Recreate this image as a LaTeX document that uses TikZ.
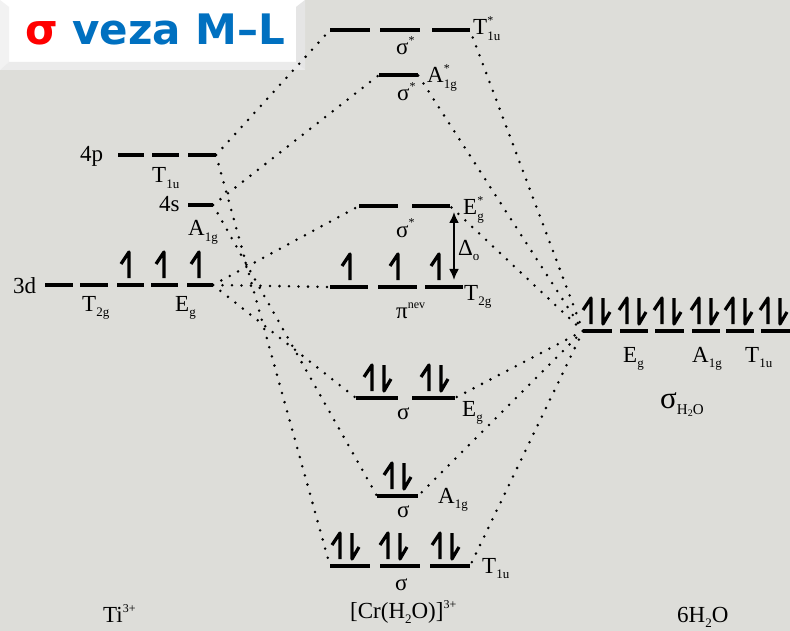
\documentclass[tikz,border=0pt]{standalone}
\usepackage{fontspec}
\setmainfont{Liberation Serif}
\newfontfamily\headfont{DejaVu Sans}
\usetikzlibrary{arrows.meta}

\definecolor{bgcol}{RGB}{221,221,217}
\definecolor{headblue}{RGB}{0,112,192}
\definecolor{headred}{RGB}{255,0,0}

\newcommand{\lsub}[1]{\raisebox{-5.5pt}{\fontsize{13}{13}\selectfont #1}}
\newcommand{\lsup}[1]{\raisebox{10pt}{\fontsize{12}{12}\selectfont #1}}
\newcommand{\orb}[3]{#1\makebox[0pt][l]{\lsup{#3}}\lsub{#2}}
\newcommand{\spinup}[2]{\draw[spin] (#1-8,#2-21) -- (#1,#2-33) -- (#1,#2-7);}
\newcommand{\spindown}[2]{\draw[spin] (#1,#2-33) -- (#1,#2-7) -- (#1+7,#2-19);}
\newcommand{\spinpair}[2]{\spinup{#1-6}{#2}\spindown{#1+6}{#2}}

\tikzset{
	orbline/.style={line width=3.8pt},
	corr/.style={line width=2.8pt,line cap=round,dash pattern=on 0pt off 9.5pt},
	spin/.style={line width=3.2pt,line join=round},
	lab/.style={inner sep=0pt,anchor=base west,font=\fontsize{23}{25}\selectfont},
}

\begin{document}
\begin{tikzpicture}[x=1pt,y=-1pt]
					\useasboundingbox (0,0) rectangle (790,631);
					\fill[bgcol] (0,0) rectangle (790,631);
					%Title
					\fill[white] (0,0) rectangle (305,70);
					\fill[gray!10] (0,0) -- (9,7) -- (9,62) -- (0,70) -- cycle;
					\fill[gray!16] (0,70) -- (9,62) -- (296,62) -- (305,70) -- cycle;
					\fill[gray!20] (305,0) -- (296,7) -- (296,62) -- (305,70) -- cycle;
					\node[inner sep=0pt,anchor=base west,font=\headfont\bfseries\fontsize{42}{44}\selectfont] (head) at (25,45) {\textcolor{headred}{σ} \textcolor{headblue}{veza M–L}};
					%Ti 3+
					\draw[orbline] (118,155)--(144,155);
					\draw[orbline] (152,155)--(179,155);
					\draw[orbline] (188,155)--(216,155);
					\draw[orbline] (188,205)--(213,205);
					\draw[orbline] (45,285)--(73,285);
					\draw[orbline] (80,285)--(108,285);
					\draw[orbline] (117,285)--(144,285);
					\draw[orbline] (151,285)--(178,285);
					\draw[orbline] (187,285)--(213,285);
					\spinup{129}{285} \spinup{164}{285} \spinup{199}{285}
					\coordinate (p4) at (216,155);
					\coordinate (s4) at (213,205);
					\coordinate (d3) at (213,285);
					\node[lab] (l4p) at (80,162) {4p};
					\node[lab] (lt1u) at (152,183) {\orb{T}{1u}{}};
					\node[lab] (l4s) at (159,212) {4s};
					\node[lab] (la1g) at (188,236) {\orb{A}{1g}{}};
					\node[lab] (l3d) at (13,294) {3d};
					\node[lab] (lt2g) at (82,311) {\orb{T}{2g}{}};
					\node[lab] (leg) at (175,311) {\orb{E}{g}{}};
					\node[lab] (lti) at (103,622) {Ti\lsup{3+}};
					%Complex
					\draw[orbline] (330,30)--(370,30);
					\draw[orbline] (380,30)--(420,30);
					\draw[orbline] (432,30)--(470,30);
					\draw[orbline] (379,75)--(418,75);
					\draw[orbline] (359,206)--(398,206);
					\draw[orbline] (412,206)--(450,206);
					\draw[orbline] (330,287)--(368,287);
					\draw[orbline] (378,287)--(417,287);
					\draw[orbline] (425,287)--(463,287);
					\draw[orbline] (356,398)--(398,398);
					\draw[orbline] (412,398)--(455,398);
					\draw[orbline] (377,496)--(418,496);
					\draw[orbline] (330,566)--(370,566);
					\draw[orbline] (380,566)--(420,566);
					\draw[orbline] (430,566)--(470,566);
					\spinup{350}{287} \spinup{398}{287} \spinup{439}{287}
					\spinpair{378}{398} \spinpair{435}{398}
					\spinpair{398}{496}
					\spinpair{346}{566} \spinpair{394}{566} \spinpair{446}{566}
					\coordinate (tuaL) at (330,30);
					\coordinate (tuaR) at (470,30);
					\coordinate (agaL) at (379,75);
					\coordinate (agaR) at (418,75);
					\coordinate (egaL) at (359,206);
					\coordinate (egaR) at (450,206);
					\coordinate (t2gL) at (330,287);
					\coordinate (egL) at (356,398);
					\coordinate (egR) at (455,398);
					\coordinate (agL) at (377,496);
					\coordinate (agR) at (418,496);
					\coordinate (tuL) at (330,566);
					\coordinate (tuR) at (470,566);
					\coordinate (dtop) at (454,212);
					\coordinate (dbot) at (454,280);
					\draw[line width=2pt,{Latex[length=11pt,width=10pt]}-{Latex[length=11pt,width=10pt]}] (dtop)--(dbot);
					\node[lab] (stua) at (396,55) {σ\lsup{*}};
					\node[lab] (ltua) at (473,35) {\orb{T}{1u}{*}};
					\node[lab] (laga) at (427,83) {\orb{A}{1g}{*}};
					\node[lab] (saga) at (397,101) {σ\lsup{*}};
					\node[lab] (lega) at (463,215) {\orb{E}{g}{*}};
					\node[lab] (sega) at (396,237) {σ\lsup{*}};
					\node[lab] (ldel) at (458,255) {Δ\lsub{o}};
					\node[lab] (lt2gm) at (464,300) {\orb{T}{2g}{}};
					\node[lab] (lpin) at (396,318) {π\lsup{nev}};
					\node[lab] (legm) at (462,416) {\orb{E}{g}{}};
					\node[lab] (segm) at (397,419) {σ};
					\node[lab] (lagm) at (438,503) {\orb{A}{1g}{}};
					\node[lab] (sagm) at (397,517) {σ};
					\node[lab] (ltum) at (482,573) {\orb{T}{1u}{}};
					\node[lab] (stum) at (395,590) {σ};
					\node[lab] (lcr) at (350,618) {[Cr(H\lsub{2}O)]\lsup{3+}};
					%6 H2O
					\draw[orbline] (583,331)--(612,331);
					\draw[orbline] (620,331)--(648,331);
					\draw[orbline] (655,331)--(684,331);
					\draw[orbline] (692,331)--(720,331);
					\draw[orbline] (726,331)--(754,331);
					\draw[orbline] (761,331)--(790,331);
					\spinpair{597}{331} \spinpair{633}{331} \spinpair{668}{331}
					\spinpair{705}{331} \spinpair{739}{331} \spinpair{774}{331}
					\coordinate (lig) at (583,331);
					\node[lab] (lel) at (623,362) {\orb{E}{g}{}};
					\node[lab] (lal) at (692,362) {\orb{A}{1g}{}};
					\node[lab] (ltl) at (745,362) {\orb{T}{1u}{}};
					\node[lab,font=\fontsize{31}{33}\selectfont] (sig) at (660,408) {σ\raisebox{-6pt}{\fontsize{15}{15}\selectfont H\raisebox{-2pt}{\fontsize{10}{10}\selectfont 2}O}};
					\node[lab] (lwat) at (677,622) {6H\lsub{2}O};
					%Correlation lines
					\draw[corr] (p4)--(tuaL);
					\draw[corr] (p4)--(tuL);
					\draw[corr] (s4)--(agaL);
					\draw[corr] (s4)--(agL);
					\draw[corr] (d3)--(egaL);
					\draw[corr] (d3)--(t2gL);
					\draw[corr] (d3)--(egL);
					\draw[corr] (lig)--(tuaR);
					\draw[corr] (lig)--(agaR);
					\draw[corr] (lig)--(egaR);
					\draw[corr] (lig)--(egR);
					\draw[corr] (lig)--(agR);
					\draw[corr] (lig)--(tuR);
\end{tikzpicture}
\end{document}
